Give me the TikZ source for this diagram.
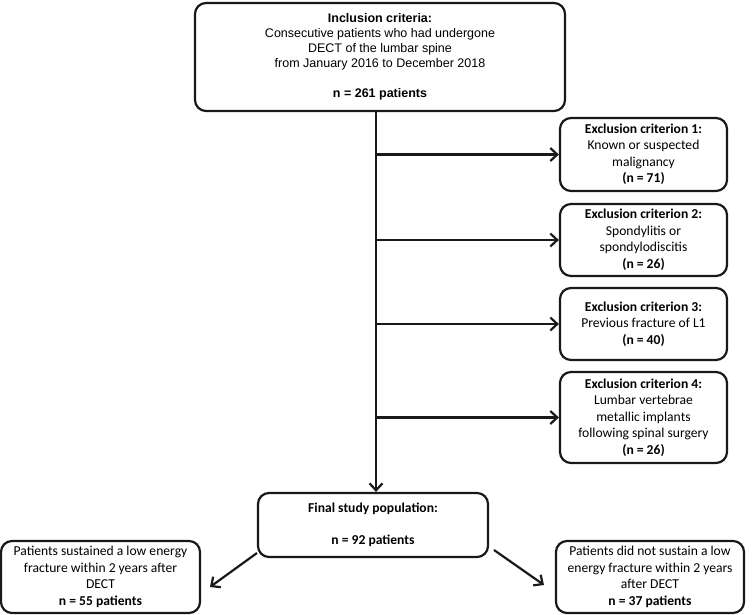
\documentclass[tikz,border=0pt]{standalone}
\usepackage{fontspec}
\setmainfont{Carlito}
\newfontfamily\arialfont{Liberation Sans}
\usetikzlibrary{arrows.meta}
\begin{document}
\begin{tikzpicture}[x=1pt,y=-1pt,
  box/.style={draw=black!90, line width=2.2pt, rounded corners=11pt, align=center, inner sep=0pt},
  cal/.style={font=\fontsize{13.6}{16.5}\selectfont},
  arr/.style={draw=black!90, line width=2.2pt, -{Straight Barb[length=7pt,width=13pt,line width=2.2pt]}}]
\useasboundingbox (0,0) rectangle (756,614);
\node[box, minimum width=370pt, minimum height=108pt, font=\arialfont\fontsize{12.5}{15}\selectfont] (top) at (380,57)
  {\textbf{Inclusion criteria:}\\Consecutive patients who had undergone\\DECT of the lumbar spine\\from January 2016 to December 2018\\[15pt]\textbf{n = 261 patients}};
\node[box, cal, minimum width=167pt, minimum height=73pt] (ex1) at (643.5,154.5)
  {\textbf{Exclusion criterion 1:}\\Known or suspected\\malignancy\\\textbf{(n = 71)}};
\node[box, cal, minimum width=167pt, minimum height=72pt] (ex2) at (643.5,240)
  {\textbf{Exclusion criterion 2:}\\Spondylitis or\\spondylodiscitis\\\textbf{(n = 26)}};
\node[box, cal, minimum width=167pt, minimum height=72pt] (ex3) at (643.5,324)
  {\textbf{Exclusion criterion 3:}\\Previous fracture of L1\\\textbf{(n = 40)}};
\node[box, cal, minimum width=167pt, minimum height=91pt] (ex4) at (643.5,417.5)
  {\textbf{Exclusion criterion 4:}\\Lumbar vertebrae\\metallic implants\\following spinal surgery\\\textbf{(n = 26)}};
\node[box, cal, minimum width=230pt, minimum height=64pt] (final) at (373,525)
  {\textbf{Final study population:}\\[16pt]\textbf{n = 92 patients}};
\node[box, cal, minimum width=199pt, minimum height=72pt] (left) at (100.5,577)
  {Patients sustained a low energy\\fracture within 2 years after\\DECT\\\textbf{n = 55 patients}};
\node[box, cal, minimum width=188pt, minimum height=72pt] (right) at (650,577)
  {Patients did not sustain a low\\energy fracture within 2 years\\after DECT\\\textbf{n = 37 patients}};
\coordinate (t1) at (376,111);
\draw[arr] (t1) -- (t1 |- final.north);
\draw[arr] (t1 |- ex1.west) -- (ex1.west);
\draw[arr] (t1 |- ex2.west) -- (ex2.west);
\draw[arr] (t1 |- ex3.west) -- (ex3.west);
\draw[arr] (t1 |- ex4.west) -- (ex4.west);
\coordinate (ls) at (257,553);
\coordinate (le) at (210,587);
\coordinate (rs) at (494,550);
\coordinate (re) at (544,585);
\draw[arr] (ls) -- (le);
\draw[arr] (rs) -- (re);
\end{tikzpicture}
\end{document}
